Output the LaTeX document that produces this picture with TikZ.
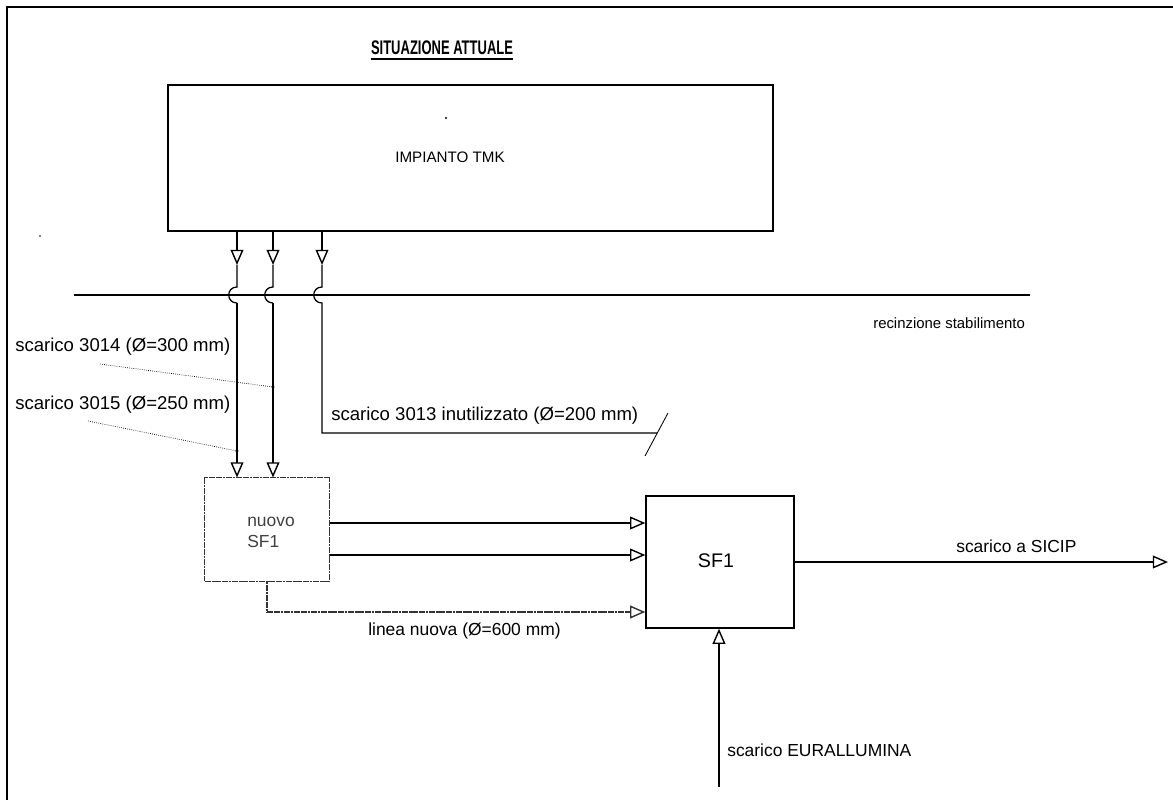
\documentclass[tikz,border=0pt]{standalone}
\usepackage{fontspec}
\setmainfont{Liberation Sans}
\newfontfamily\titlefont[FakeStretch=0.66]{Liberation Sans}
\usetikzlibrary{arrows.meta}
\begin{document}
\begin{tikzpicture}[x=0.025cm,y=-0.025cm,
  lbl/.style={font=\fontsize{12.4}{14}\selectfont, inner sep=0pt},
  biglbl/.style={font=\fontsize{13.2}{15}\selectfont, inner sep=0pt},
  pipe/.style={line width=0.9pt},
  tip/.style={-{Triangle[open,length=3.8mm,width=3.2mm,line width=1pt]}},
  box/.style={draw, line width=1pt, inner sep=0pt, rectangle},
  leader/.style={line width=0.5pt, densely dotted},
  grainy/.style={dash pattern=on 2pt off 0.4pt}]
\useasboundingbox (0,0) rectangle (1173,800);
% frame
\draw[line width=1.5pt] (1173,7) -- (7,7) -- (7,800);
% title
\node[inner sep=0pt, font=\titlefont\bfseries\fontsize{14}{16}\selectfont] (title) at (442,48) {SITUAZIONE ATTUALE};
\draw[line width=1.1pt] ([yshift=-2.5pt]title.south west) -- ([yshift=-2.5pt]title.south east);
% boxes
\node[box, minimum width=15.125cm, minimum height=3.65cm] (tmk) at (470.5,158) {};
\node[inner sep=0pt, font=\fontsize{10.8}{13}\selectfont] (tmktext) at (450,157) {IMPIANTO TMK};
\fill (446,118) circle (0.8pt);
\fill (40,236) circle (0.6pt);
\node[box, line width=0.7pt, grainy, draw=black!80, minimum width=3.1cm, minimum height=2.575cm] (nuovo) at (267,529.5) {};
\node[lbl, text=black!75, align=left, anchor=north west] (nuovotext) at (247,517) {nuovo\\[1pt]SF1};
\node[box, minimum width=3.7cm, minimum height=3.3cm] (sf1) at (720,562) {};
\node[inner sep=0pt, font=\fontsize{14}{16}\selectfont] (sf1text) at (716,561) {SF1};
% fence
\coordinate (fenceL) at (74,295);
\coordinate (fenceR) at (1030,295);
\draw[line width=1.3pt] (fenceL) -- (fenceR);
\node[inner sep=0pt, anchor=west, font=\fontsize{10.6}{13}\selectfont] (fencelbl) at (873,323) {recinzione stabilimento};
% pipe coordinates
\coordinate (a1) at (237,265);
\coordinate (a2) at (273,265);
\coordinate (a3) at (322,265);
% pipe 1 (3015)
\draw[pipe,tip] (tmk.south -| a1) -- (a1);
\draw[pipe] (a1) -- (237,287) .. controls (226,287) and (226,303) .. (237,303);
\draw[pipe,tip] (237,303) -- (nuovo.north -| a1);
% pipe 2 (3014)
\draw[pipe,tip] (tmk.south -| a2) -- (a2);
\draw[pipe] (a2) -- (273,287) .. controls (262,287) and (262,303) .. (273,303);
\draw[pipe,tip] (273,303) -- (nuovo.north -| a2);
% pipe 3 (3013)
\coordinate (c3end) at (657,433);
\draw[pipe,tip] (tmk.south -| a3) -- (a3);
\draw[pipe] (a3) -- (322,287) .. controls (311,287) and (311,303) .. (322,303) -- (322,433) -- (c3end);
\coordinate (slashA) at (668,413);
\coordinate (slashB) at (645,456);
\draw[line width=0.6pt] (slashA) -- (slashB);
\node[biglbl, anchor=south west] (l3013) at (331,425) {scarico 3013 inutilizzato (Ø=200 mm)};
% labels left
\node[biglbl, anchor=west] (l3014) at (15,347) {scarico 3014 (Ø=300 mm)};
\node[biglbl, anchor=west] (l3015) at (15,405) {scarico 3015 (Ø=250 mm)};
\coordinate (d1) at (273,387);
\coordinate (d2) at (237,451);
\draw[leader] (100,364) -- (d1);
\draw[leader] (88,421) -- (d2);
\fill (d1) circle (1.2pt);
\fill (d2) circle (1.2pt);
% nuovo -> sf1
\draw[pipe,tip] (nuovo.east |- 0,523) -- (sf1.west |- 0,523);
\draw[pipe,tip] (nuovo.east |- 0,555) -- (sf1.west |- 0,555);
\coordinate (ln) at (267,612);
\draw[pipe, grainy, draw=black!80] (nuovo.south) -- (ln);
\draw[pipe, grainy, draw=black!80, tip] (ln) -- (sf1.west |- ln);
\node[lbl, anchor=west] (lnuova) at (368,631) {linea nuova (Ø=600 mm)};
% SICIP
\coordinate (sicip) at (1168,562);
\draw[pipe,tip] (sf1.east |- sicip) -- (sicip);
\node[lbl, anchor=west] (lsicip) at (956,546) {scarico a SICIP};
% EURALLUMINA
\coordinate (eur) at (719,787);
\draw[pipe,tip] (eur) -- (sf1.south -| eur);
\node[lbl, anchor=west] (leur) at (727,750) {scarico EURALLUMINA};
\end{tikzpicture}
\end{document}
